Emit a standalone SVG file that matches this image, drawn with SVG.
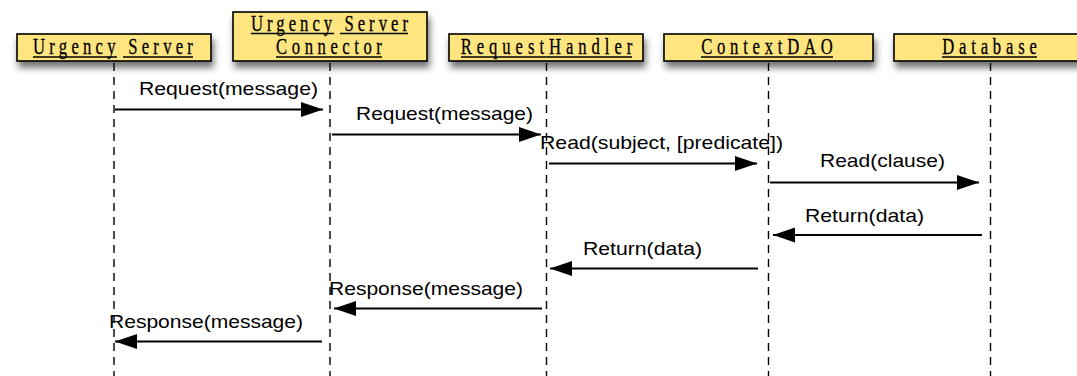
<svg xmlns="http://www.w3.org/2000/svg" width="1077" height="376" viewBox="0 0 1077 376">
  <defs>
    <filter id="shadow" x="-10%" y="-30%" width="120%" height="180%">
      <feDropShadow dx="2" dy="6" stdDeviation="3.5" flood-color="#000" flood-opacity="0.55"/>
    </filter>
    <marker id="head" markerUnits="userSpaceOnUse" markerWidth="24" markerHeight="16" refX="22" refY="7.5" orient="auto">
      <path d="M0,0 L22,7.5 L0,15 z" fill="#000"/>
    </marker>
  </defs>
  <style>
    .box { fill: #FFE57F; stroke: #000; stroke-width: 1.6; }
    .title { font-family: "Liberation Serif", "DejaVu Serif", serif; font-size: 22.5px; fill: #000; stroke: #000; stroke-width: 0.3; text-anchor: middle; }
    .uline { stroke: #000; stroke-width: 1.3; }
    .life { stroke: #000; stroke-width: 1.4; stroke-dasharray: 8 6; fill: none; }
    .msg { stroke: #000; stroke-width: 1.8; fill: none; marker-end: url(#head); }
    .label { font-family: "Liberation Sans", Arial, sans-serif; font-size: 19px; fill: #000; }
  </style>

  <rect width="1077" height="376" fill="#fff"/>

  <!-- lifelines -->
  <g id="lifelines">
    <line class="life" x1="114" y1="63" x2="114" y2="376"/>
    <line class="life" x1="330" y1="63" x2="330" y2="376"/>
    <line class="life" x1="546.5" y1="63" x2="546.5" y2="376"/>
    <line class="life" x1="768.5" y1="63" x2="768.5" y2="376"/>
    <line class="life" x1="990.5" y1="63" x2="990.5" y2="376"/>
  </g>

  <!-- participants -->
  <g id="urgency-server">
    <rect class="box" x="17" y="34" width="194" height="27" filter="url(#shadow)"/>
    <text class="title" transform="translate(113,54) scale(0.74,1)" textLength="216" lengthAdjust="spacing">Urgency Server</text>
    <line class="uline" x1="33" y1="57" x2="117" y2="57"/>
    <line class="uline" x1="123" y1="57" x2="193" y2="57"/>
  </g>
  <g id="urgency-server-connector">
    <rect class="box" x="233" y="12" width="194" height="49" filter="url(#shadow)"/>
    <text class="title" transform="translate(329.5,30.5) scale(0.74,1)" textLength="212" lengthAdjust="spacing">Urgency Server</text>
    <line class="uline" x1="251" y1="33.5" x2="334" y2="33.5"/>
    <line class="uline" x1="340" y1="33.5" x2="408" y2="33.5"/>
    <text class="title" transform="translate(329,54) scale(0.74,1)" textLength="143" lengthAdjust="spacing">Connector</text>
    <line class="uline" x1="276" y1="57" x2="382" y2="57"/>
  </g>
  <g id="request-handler">
    <rect class="box" x="449" y="34" width="194" height="27" filter="url(#shadow)"/>
    <text class="title" transform="translate(546.5,54) scale(0.74,1)" textLength="232" lengthAdjust="spacing">RequestHandler</text>
    <line class="uline" x1="461" y1="57" x2="632" y2="57"/>
  </g>
  <g id="context-dao">
    <rect class="box" x="664" y="34" width="209" height="27" filter="url(#shadow)"/>
    <text class="title" transform="translate(767,54) scale(0.74,1)" textLength="178" lengthAdjust="spacing">ContextDAO</text>
    <line class="uline" x1="701" y1="57" x2="833" y2="57"/>
  </g>
  <g id="database">
    <rect class="box" x="894" y="34" width="194" height="27" filter="url(#shadow)"/>
    <text class="title" transform="translate(989.5,54) scale(0.74,1)" textLength="128" lengthAdjust="spacing">Database</text>
    <line class="uline" x1="942" y1="57" x2="1037" y2="57"/>
  </g>

  <!-- messages -->
  <g id="connectors">
    <line class="msg" x1="115" y1="109.5" x2="323" y2="109.5"/>
    <line class="msg" x1="332" y1="134.5" x2="541" y2="134.5"/>
    <line class="msg" x1="549" y1="163.5" x2="757" y2="163.5"/>
    <line class="msg" x1="770" y1="182.5" x2="979" y2="182.5"/>
    <line class="msg" x1="982" y1="235" x2="773" y2="235"/>
    <line class="msg" x1="758" y1="268.5" x2="550" y2="268.5"/>
    <line class="msg" x1="542" y1="308.5" x2="334" y2="308.5"/>
    <line class="msg" x1="322" y1="341.5" x2="115" y2="341.5"/>
  </g>

  <!-- message labels -->
  <g id="labels">
    <text class="label" x="139" y="95" textLength="179" lengthAdjust="spacingAndGlyphs">Request(message)</text>
    <text class="label" x="356" y="120" textLength="177" lengthAdjust="spacingAndGlyphs">Request(message)</text>
    <text class="label" x="540" y="148.5" textLength="243" lengthAdjust="spacingAndGlyphs">Read(subject, [predicate])</text>
    <text class="label" x="820" y="167" textLength="125" lengthAdjust="spacingAndGlyphs">Read(clause)</text>
    <text class="label" x="805" y="221.5" textLength="119" lengthAdjust="spacingAndGlyphs">Return(data)</text>
    <text class="label" x="583" y="255" textLength="119" lengthAdjust="spacingAndGlyphs">Return(data)</text>
    <text class="label" x="329" y="295" textLength="194" lengthAdjust="spacingAndGlyphs">Response(message)</text>
    <text class="label" x="109" y="328" textLength="194" lengthAdjust="spacingAndGlyphs">Response(message)</text>
  </g>
</svg>
